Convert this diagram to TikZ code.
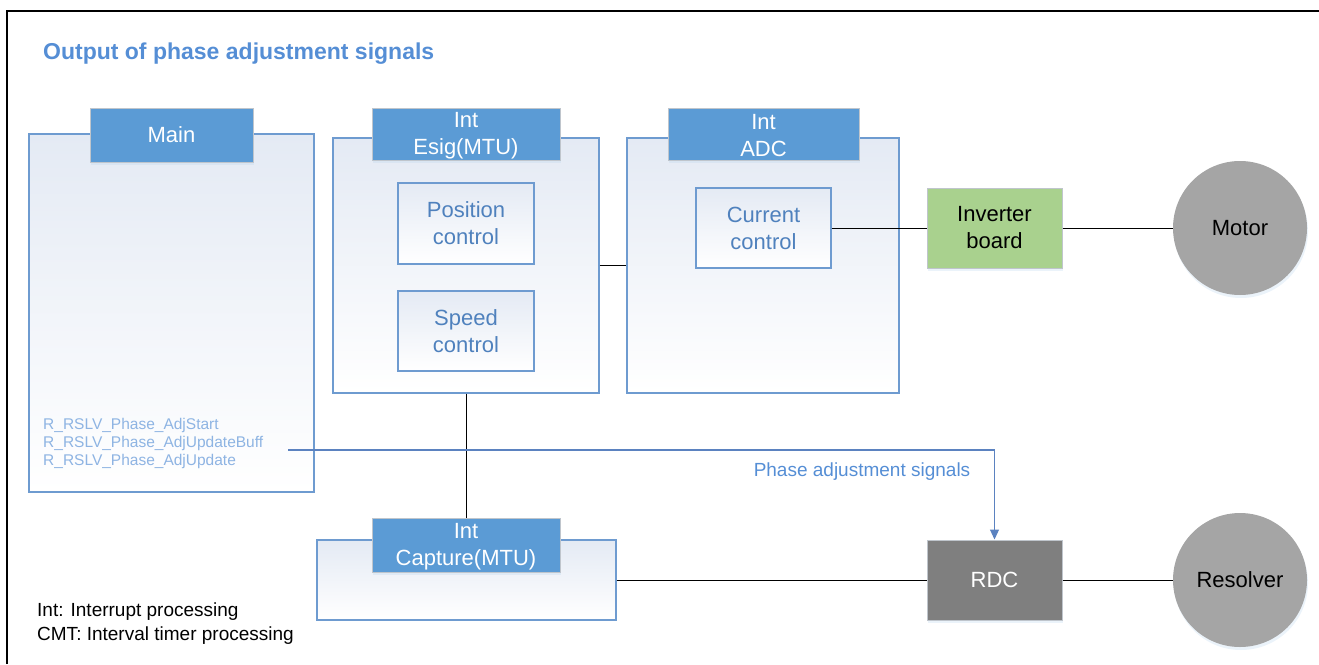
\documentclass[tikz,border=0pt]{standalone}
\usepackage{fontspec}
\setmainfont{Liberation Sans}
\usetikzlibrary{shadows,arrows.meta}

\definecolor{hdblue}{HTML}{5B9BD5}
\definecolor{hdedge}{HTML}{BFC5CC}
\definecolor{boxedge}{HTML}{6E9BD0}
\definecolor{boxtop}{HTML}{E4EAF4}
\definecolor{boxtext}{HTML}{4F81BD}
\definecolor{ttlblue}{HTML}{558ED5}
\definecolor{fnblue}{HTML}{8EB4E3}
\definecolor{sigblue}{HTML}{5B82C0}
\definecolor{invgreen}{HTML}{A9D18E}
\definecolor{rdcgray}{HTML}{7F7F7F}
\definecolor{devgray}{HTML}{A5A5A5}

\tikzset{
  glow/.style={drop shadow={shadow xshift=1pt, shadow yshift=-3pt, opacity=0.3, fill=hdblue!40}},
  taskbox/.style={draw=boxedge, line width=1.2pt, top color=boxtop, bottom color=white, inner sep=0pt},
  taskhead/.style={draw=hdedge, line width=1pt, fill=hdblue, text=white, glow, align=center,
    font=\fontsize{22}{27}\selectfont, inner sep=0pt},
  ctrlbox/.style={draw=boxedge, line width=1.2pt, top color=boxtop, bottom color=white, text=boxtext,
    align=center, font=\fontsize{22}{27}\selectfont, minimum width=135pt, minimum height=80pt, inner sep=0pt},
  hwbox/.style={draw=hdedge, line width=1pt, glow, align=center, font=\fontsize{22}{27}\selectfont,
    minimum width=135pt, minimum height=80pt, inner sep=0pt},
  device/.style={circle, fill=devgray, glow, font=\fontsize{22}{27}\selectfont, minimum size=134pt, inner sep=0pt},
  wire/.style={line width=1pt, black},
  sigline/.style={line width=1.2pt, sigblue, -{Triangle[length=10pt,width=9pt]}}
}

\begin{document}
\begin{tikzpicture}[x=1pt,y=-1pt]
    \useasboundingbox (0,0) rectangle (1319,664);

    % frame (right and bottom edges fall off the page)
    \draw[line width=2.2pt] (7,664) -- (7,11) -- (1319,11);

    % title
    \node[anchor=west, text=ttlblue, font=\bfseries\fontsize{23}{27}\selectfont, inner sep=0pt] (title) at (43,54)
      {Output of phase adjustment signals};

    % Main task
    \node[taskbox, minimum width=285pt, minimum height=358pt] (main) at (171.5,313) {};
    \node[taskhead, minimum width=163pt, minimum height=54pt] (mainhd) at (171.5,135) {Main};
    \node[anchor=west, align=left, text=fnblue, font=\fontsize{15.5}{18}\selectfont, inner sep=0pt] (funcs) at (43,443)
      {R\_RSLV\_Phase\_AdjStart\\R\_RSLV\_Phase\_AdjUpdateBuff\\R\_RSLV\_Phase\_AdjUpdate};
    \coordinate (sigstart) at (288,450);

    % Int Esig(MTU)
    \node[taskbox, minimum width=266pt, minimum height=255pt] (esig) at (466,265.5) {};
    \node[taskhead, minimum width=188pt, minimum height=52pt] (esighd) at (466,134) {\strut Int\\Esig(MTU)};
    \node[ctrlbox, minimum width=136pt, minimum height=81pt] (poscon) at (466,223.5) {Position\\control};
    \node[ctrlbox, minimum width=136pt] (spdcon) at (466,331) {Speed\\control};

    % Int ADC
    \node[taskbox, minimum width=272pt, minimum height=255pt] (adc) at (763,265.5) {};
    \node[taskhead, minimum width=191pt, minimum height=52pt] (adchd) at (763.5,134) {\strut Int\\ADC};
    \node[ctrlbox] (curcon) at (763.5,228) {Current\\control};

    % Int Capture(MTU)
    \node[taskbox, minimum width=299pt, minimum height=80pt] (cap) at (466.5,580) {};
    \node[taskhead, minimum width=188pt, minimum height=54pt] (caphd) at (466,545) {\strut Int\\Capture(MTU)};

    % hardware
    \node[hwbox, fill=invgreen] (inv) at (994.5,228) {Inverter\\board};
    \node[hwbox, fill=rdcgray, text=white] (rdc) at (994.5,580) {RDC};
    \node[device] (motor) at (1240,228) {Motor};
    \node[device] (resolver) at (1240,580) {Resolver};

    % connections
    \draw[wire] (esig.east) -- (adc.west);
    \draw[wire] (curcon.east) -- (inv.west);
    \draw[wire] (inv.east) -- (motor.west);
    \draw[wire] (esig.south) -- (caphd.north);
    \draw[wire] (cap.east) -- (rdc.west);
    \draw[wire] (rdc.east) -- (resolver.west);

    % phase adjustment signals
    \draw[sigline] (sigstart) -| (rdc.north);
    \node[text=ttlblue, font=\fontsize{19}{23}\selectfont, inner sep=0pt] (siglbl) at (862,472) {Phase adjustment signals};

    % legend
    \node[anchor=west, align=left, font=\fontsize{19}{24}\selectfont, inner sep=0pt] (legend) at (37,624)
      {Int: Interrupt processing\\CMT: Interval timer processing};
\end{tikzpicture}
\end{document}
